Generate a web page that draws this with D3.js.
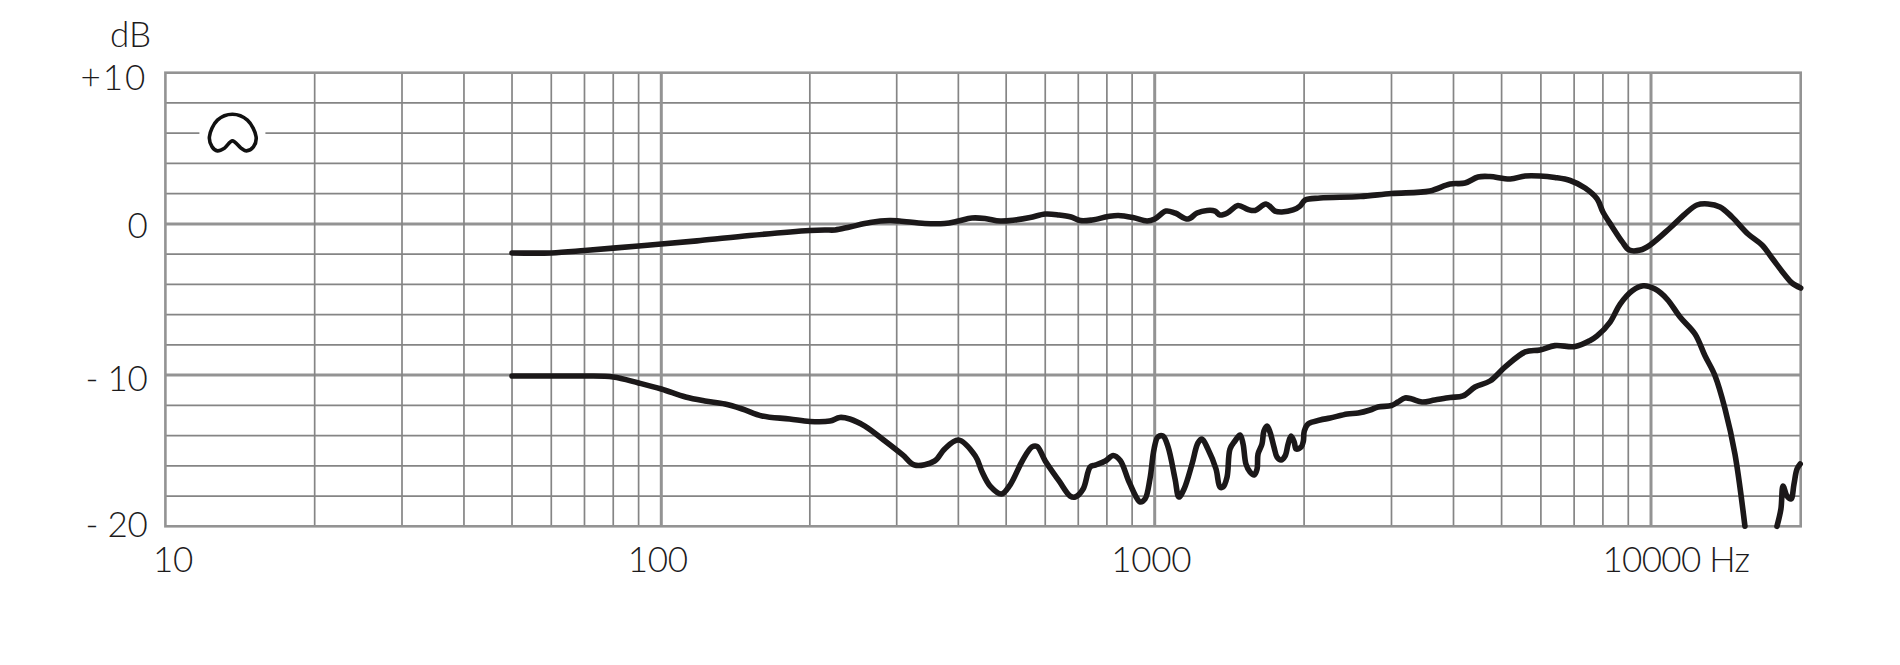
<!DOCTYPE html>
<html>
<head>
<meta charset="utf-8">
<script src="https://cdn.jsdelivr.net/npm/d3@7"></script>
<style>
  html, body { margin: 0; padding: 0; background: #fff; }
  text { font-family: Lato, sans-serif; font-weight: 300; fill: #1d1b1c; }
</style>
</head>
<body>
<div id="chart"></div>
<script>
// frequency response, Hz / dB
const upperHz = [50,60,70,80,90,100,120,151,200,214.5,225,241,265,290,304,342,375,400,426,453,486,521,559,600,640,677,707,747,805,844,904,965,1000,1054,1099,1167,1217,1275,1323,1354,1405,1472,1542,1593,1676,1747,1804,1900,1962,2010,2154,2594,3000,3585,3936,4219,4482,4737,5204,5578,5970,6403,6871,7366,7787,8000,8356,8753,9042,9515,9954,10920,11700,12370,13020,13760,14550,15670,16720,17510,18590,19210,20000];
const upperDb = [-1.92,-1.92,-1.76,-1.6,-1.46,-1.33,-1.1,-0.77,-0.44,-0.4,-0.4,-0.2,0.09,0.22,0.19,0.03,0.03,0.19,0.39,0.36,0.19,0.26,0.42,0.65,0.59,0.46,0.22,0.26,0.49,0.56,0.42,0.19,0.32,0.85,0.72,0.32,0.72,0.89,0.85,0.59,0.75,1.22,0.95,0.89,1.32,0.85,0.79,0.92,1.18,1.58,1.71,1.81,2.01,2.18,2.64,2.7,3.1,3.13,2.97,3.17,3.17,3.07,2.87,2.37,1.65,0.79,-0.2,-1.19,-1.73,-1.73,-1.4,-0.27,0.65,1.25,1.32,1.12,0.46,-0.67,-1.4,-2.26,-3.38,-3.91,-4.24];

const lowerHz = [50,60,70,80,90,100,112,122.6,134.6,146,160,182,200,219.6,230,241,258.6,284,308.5,326,358,375,400,433,447,464,489,509,539,564,577.5,600,640,674,690,716,740,757.5,794,824,851.5,884,917,934,956,978,997,1015,1039,1064,1099,1119,1146,1189,1222,1245,1280,1329,1354,1373,1399,1418,1451,1486,1507,1527,1556,1586,1608,1615,1645,1660,1684,1707,1739,1764,1797,1831,1857,1883,1910,1928,1974,1993,2002,2038,2154,2257,2443,2571,2716,2819,3000,3090,3194,3299,3456,3665,3936,4180,4420,4737,5084,5578,5970,6403,7032,7541,7787,8272,8666,9169,9649,10190,10770,11440,12260,12840,13450,14090,14750,15450];
const lowerDb = [-10.06,-10.06,-10.06,-10.12,-10.52,-10.92,-11.45,-11.71,-11.91,-12.24,-12.7,-12.9,-13.07,-13.04,-12.8,-12.9,-13.37,-14.36,-15.28,-15.95,-15.68,-14.89,-14.29,-15.35,-16.41,-17.34,-17.86,-17.27,-15.68,-14.75,-14.72,-15.68,-17,-18,-18.06,-17.53,-16.08,-15.95,-15.68,-15.32,-15.65,-16.94,-18.06,-18.39,-18.19,-16.87,-14.89,-14.09,-14.03,-14.75,-16.87,-18.06,-17.53,-15.88,-14.49,-14.23,-14.89,-16.21,-17.4,-17.4,-16.74,-14.89,-14.36,-13.96,-14.56,-15.88,-16.41,-16.61,-16.21,-15.22,-14.56,-13.7,-13.37,-13.76,-14.75,-15.42,-15.61,-15.35,-14.56,-14.03,-14.43,-14.89,-14.75,-14.36,-13.7,-13.23,-12.97,-12.84,-12.57,-12.51,-12.31,-12.11,-12.01,-11.78,-11.51,-11.58,-11.78,-11.65,-11.48,-11.38,-10.79,-10.39,-9.46,-8.47,-8.34,-8.05,-8.11,-7.71,-7.41,-6.49,-5.3,-4.42,-4.09,-4.31,-4.97,-6.16,-7.28,-8.72,-10.04,-12.24,-15.22,-20];

// lower curve comes back in after it drops off the bottom of the grid
const tailHz = [17920,18250,18430,18770,19120,19390,19660,19950];
const tailDb = [-20,-18.86,-17.34,-18,-18.19,-17.2,-16.21,-15.88];

const xMinor = [20,30,40,50,60,70,80,90,200,300,400,500,600,700,800,900,2000,3000,4000,5000,6000,7000,8000,9000];
const xMajor = [100,1000,10000];
const xLabels = [10,100,1000,10000];
const yMinor = [8,6,4,2,-2,-4,-6,-8,-12,-14,-16,-18];
const yMajor = [0,-10];
const yLabels = [10,0,-10,-20];
const yLabelText = {'10':'+10','0':'0','-10':'- 10','-20':'- 20'};

// polar pattern glyph, px around its centre
const glyphX = [0,15,23.7,21,14,8.7,0,-8,-15,-20.3,-23,-15];
const glyphY = [-19,-13,3.7,13.7,17.7,15,7.7,15,17.7,13.7,3.7,-13];

const width = 1900, height = 665;
const gridColor = '#858585', frameColor = '#939393', inkColor = '#1b1819';

// decades are not quite even in the original, so one segment per decade
const xScale = d3.scaleLog()
    .domain([10,100,1000,10000,20000])
    .range([165.4,661.3,1154.7,1651,1800.7]);

const yScale = d3.scaleLinear().domain([-20,10]).range([526.3,72.7]);

const svg = d3.select('#chart').append('svg')
    .attr('width', width)
    .attr('height', height)
    .style('display', 'block');

// horizontal grid
svg.append('g').selectAll('line')
    .data(yMinor)
    .enter()
    .append('line')
    .attr('x1', xScale(10))
    .attr('x2', xScale(20000))
    .attr('y1', d => yScale(d))
    .attr('y2', d => yScale(d))
    .style('stroke', gridColor)
    .style('stroke-width', 1.7);

svg.append('g').selectAll('line')
    .data(yMajor)
    .enter()
    .append('line')
    .attr('x1', xScale(10))
    .attr('x2', xScale(20000))
    .attr('y1', d => yScale(d))
    .attr('y2', d => yScale(d))
    .style('stroke', frameColor)
    .style('stroke-width', 3);

// vertical grid
svg.append('g').selectAll('line')
    .data(xMinor)
    .enter()
    .append('line')
    .attr('x1', d => xScale(d))
    .attr('x2', d => xScale(d))
    .attr('y1', yScale(10))
    .attr('y2', yScale(-20))
    .style('stroke', gridColor)
    .style('stroke-width', 1.7);

svg.append('g').selectAll('line')
    .data(xMajor)
    .enter()
    .append('line')
    .attr('x1', d => xScale(d))
    .attr('x2', d => xScale(d))
    .attr('y1', yScale(10))
    .attr('y2', yScale(-20))
    .style('stroke', frameColor)
    .style('stroke-width', 3);

// frame
svg.append('rect')
    .attr('x', xScale(10))
    .attr('y', yScale(10))
    .attr('width', xScale(20000) - xScale(10))
    .attr('height', yScale(-20) - yScale(10))
    .style('fill', 'none')
    .style('stroke', frameColor)
    .style('stroke-width', 2.6);

// axes only carry the labels, the grid is drawn above
const xAxis = svg.append('g')
    .attr('transform', 'translate(0,' + yScale(-20) + ')')
    .call(d3.axisBottom(xScale)
        .tickValues(xLabels)
        .tickFormat(d3.format('d'))
        .tickSize(0)
        .tickPadding(19));

const yAxis = svg.append('g')
    .attr('transform', 'translate(' + xScale(10) + ',0)')
    .call(d3.axisLeft(yScale)
        .tickValues(yLabels)
        .tickFormat(d => yLabelText[d])
        .tickSize(0)
        .tickPadding(18));

svg.selectAll('.domain').remove();
svg.selectAll('.tick text').style('font-size', '35px').style('letter-spacing', '-0.3px');

// the labels do not sit centred on their lines
xAxis.selectAll('.tick text')
    .attr('dy', 27)
    .attr('dx', d => d === 10 ? 7 : -4);
xAxis.selectAll('.tick text')
    .filter(d => d === 10000)
    .style('text-anchor', 'start')
    .attr('dx', -49)
    .style('letter-spacing', '-0.7px')
    .text('10000 Hz');

yAxis.selectAll('.tick text')
    .attr('dy', d => d === 10 ? 17 : d === 0 ? 14 : d === -10 ? 15 : 10);
yAxis.selectAll('.tick text')
    .filter(d => d === 10)
    .style('letter-spacing', '2px');

svg.append('text')
    .attr('x', 151)
    .attr('y', 47)
    .style('text-anchor', 'end')
    .style('font-size', '35px')
    .text('dB');

// polar pattern symbol
const glyph = svg.append('g')
    .attr('transform', 'translate(' + xScale(13.65) + ',' + yScale(6) + ')');

glyph.append('rect')
    .attr('x', -33)
    .attr('y', -24)
    .attr('width', 66)
    .attr('height', 48)
    .style('fill', '#fff');

glyph.append('path')
    .attr('d', d3.line().curve(d3.curveCatmullRomClosed.alpha(0.5))(d3.zip(glyphX, glyphY)))
    .style('fill', 'none')
    .style('stroke', '#111')
    .style('stroke-width', 3.6);

// response curves
const line = d3.line()
    .x(d => xScale(d[0]))
    .y(d => yScale(d[1]))
    .curve(d3.curveCatmullRom.alpha(0.5));

const curves = [d3.zip(upperHz, upperDb), d3.zip(lowerHz, lowerDb), d3.zip(tailHz, tailDb)];

svg.append('g').selectAll('path')
    .data(curves)
    .enter()
    .append('path')
    .attr('d', line)
    .style('fill', 'none')
    .style('stroke', inkColor)
    .style('stroke-width', 5.6)
    .style('stroke-linecap', 'round')
    .style('stroke-linejoin', 'round');
</script>
</body>
</html>
